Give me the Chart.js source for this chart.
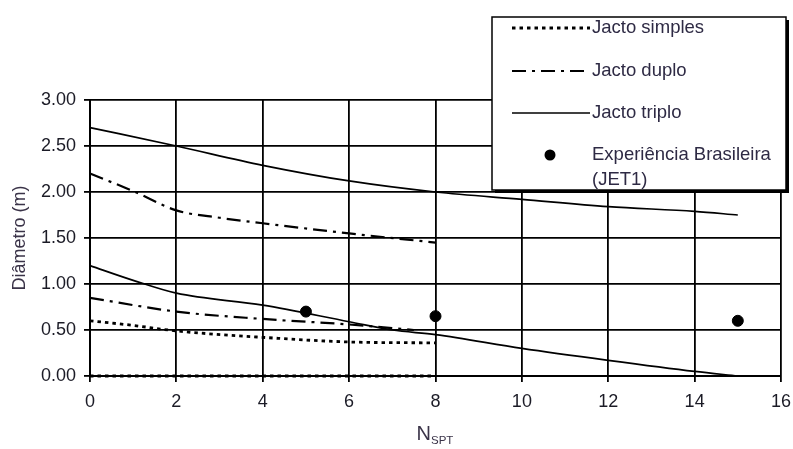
<!DOCTYPE html>
<html>
<head>
<meta charset="utf-8">
<script src="https://cdn.jsdelivr.net/npm/chart.js@4/dist/chart.umd.min.js"></script>
<style>
  html, body { margin: 0; padding: 0; background: #fff; }
  #wrap { position: relative; width: 793px; height: 449px; }
  #xtitle {
    position: absolute; left: 0; width: 870px; top: 422px; text-align: center;
    font-family: "Liberation Sans", Arial, sans-serif; font-size: 20px; color: #3a3348;
  }
  #xtitle sub { font-size: 11.5px; vertical-align: -4px; }
</style>
</head>
<body>
<div id="wrap">
  <canvas id="c" width="793" height="449"></canvas>
  <div id="xtitle">N<sub>SPT</sub></div>
</div>
<script>
// N_SPT values and diameters (m) for each curve
const simplesSupX = [0, 1, 2, 4, 6, 8];
const simplesSupY = [0.60, 0.55, 0.49, 0.42, 0.37, 0.36];
const simplesInfX = [0, 8];
const simplesInfY = [0.00, 0.00];

const duploSupX = [0, 1, 2, 3, 4, 6, 8];
const duploSupY = [2.20, 2.01, 1.80, 1.72, 1.66, 1.55, 1.45];
const duploInfX = [0, 2, 4, 6, 7.5];
const duploInfY = [0.85, 0.70, 0.62, 0.56, 0.50];

const triploSupX = [0, 2, 4, 6, 8, 10, 12, 14, 15];
const triploSupY = [2.70, 2.50, 2.29, 2.12, 2.00, 1.92, 1.84, 1.79, 1.75];
const triploInfX = [0, 1, 2, 4, 6, 7, 8, 10, 12, 14, 15];
const triploInfY = [1.20, 1.04, 0.90, 0.77, 0.59, 0.50, 0.45, 0.30, 0.17, 0.05, 0.00];

const jet1X = [5, 8, 15];
const jet1Y = [0.70, 0.65, 0.60];

const xTicks = [0, 2, 4, 6, 8, 10, 12, 14, 16];
const yTicks = [0.00, 0.50, 1.00, 1.50, 2.00, 2.50, 3.00];

const legendLabels = ["Jacto simples", "Jacto duplo", "Jacto triplo", "Experiência Brasileira", "(JET1)"];

const pts = (xs, ys) => xs.map((x, i) => ({ x: x, y: ys[i] }));

const FONT = "'Liberation Sans', Arial, sans-serif";
const INK = "#1b1b26";

const dotted = { borderDash: [3.5, 4], borderWidth: 2.8 };
const dashDot = { borderDash: [14, 6, 3, 6], borderWidth: 2.2 };
const solid = { borderDash: [], borderWidth: 1.7 };

function lineSet(label, data, style) {
  return Object.assign({
    label: label, data: data, borderColor: "#000", backgroundColor: "#000",
    pointRadius: 0, fill: false, clip: false, cubicInterpolationMode: "monotone"
  }, style);
}

const datasets = [
  lineSet("Jacto simples", pts(simplesSupX, simplesSupY), dotted),
  lineSet("Jacto simples", pts(simplesInfX, simplesInfY), dotted),
  lineSet("Jacto duplo", pts(duploSupX, duploSupY), dashDot),
  lineSet("Jacto duplo", pts(duploInfX, duploInfY), dashDot),
  lineSet("Jacto triplo", pts(triploSupX, triploSupY), solid),
  lineSet("Jacto triplo", pts(triploInfX, triploInfY), solid),
  {
    label: "Experiência Brasileira (JET1)", data: pts(jet1X, jet1Y), showLine: false,
    pointRadius: 5.5, pointBackgroundColor: "#000", pointBorderColor: "#000", borderColor: "#000"
  }
];

// Boxed key with drop shadow, drawn over the plot
const boxedKey = {
  id: "boxedKey",
  afterDraw(chart) {
    const ctx = chart.ctx;
    const L = 492, T = 17, R = 786, B = 190;
    ctx.save();
    ctx.fillStyle = "#000";
    ctx.fillRect(L + 3, T + 3, R - L, B - T);
    ctx.fillStyle = "#fff";
    ctx.fillRect(L, T, R - L, B - T);
    ctx.strokeStyle = "#000";
    ctx.lineWidth = 1.5;
    ctx.strokeRect(L, T, R - L, B - T);

    const sx0 = 512, sx1 = 590, tx = 592;
    const rows = [28, 71, 113, 155, 180];
    const styles = [dotted, dashDot, solid];
    for (let i = 0; i < 3; i++) {
      ctx.beginPath();
      ctx.setLineDash(styles[i].borderDash);
      ctx.lineWidth = styles[i].borderWidth;
      ctx.moveTo(sx0, rows[i]);
      ctx.lineTo(sx1, rows[i]);
      ctx.stroke();
    }
    ctx.setLineDash([]);
    ctx.beginPath();
    ctx.arc(550, rows[3], 5.5, 0, Math.PI * 2);
    ctx.fillStyle = "#000";
    ctx.fill();

    ctx.font = "18.5px " + FONT;
    ctx.fillStyle = "#2e2a44";
    ctx.textBaseline = "middle";
    ctx.textAlign = "left";
    for (let i = 0; i < legendLabels.length; i++) {
      ctx.fillText(legendLabels[i], tx, rows[i]);
    }
    ctx.restore();
  }
};

new Chart(document.getElementById("c"), {
  type: "line",
  data: { datasets: datasets },
  options: {
    responsive: false,
    animation: false,
    devicePixelRatio: 1,
    layout: { padding: { left: 0, right: 12, top: 100, bottom: 0 } },
    plugins: { legend: { display: false }, tooltip: { enabled: false } },
    scales: {
      x: {
        type: "linear", min: 0, max: 16,
        afterBuildTicks: (s) => { s.ticks = xTicks.map(v => ({ value: v })); },
        afterFit: (s) => { s.height = 73; s.paddingRight = 0; s.paddingLeft = 0; },
        ticks: { color: INK, font: { family: FONT, size: 18 }, padding: 9, maxRotation: 0 },
        grid: { color: "#000", lineWidth: 1.8, tickLength: 6 },
        border: { color: "#000", width: 2 }
      },
      y: {
        type: "linear", min: 0, max: 3,
        afterBuildTicks: (s) => { s.ticks = yTicks.map(v => ({ value: v })); },
        afterFit: (s) => { s.width = 90; s.paddingTop = 0; s.paddingBottom = 0; },
        ticks: { color: INK, font: { family: FONT, size: 18 }, padding: 8,
                 callback: (v) => Number(v).toFixed(2) },
        grid: { color: "#000", lineWidth: 1.8, tickLength: 6 },
        border: { color: "#000", width: 2 },
        title: { display: true, text: "Diâmetro (m)", color: "#3a3348",
                 font: { family: FONT, size: 18 }, padding: { top: 9, bottom: 0 } }
      }
    }
  },
  plugins: [boxedKey]
});
</script>
</body>
</html>
